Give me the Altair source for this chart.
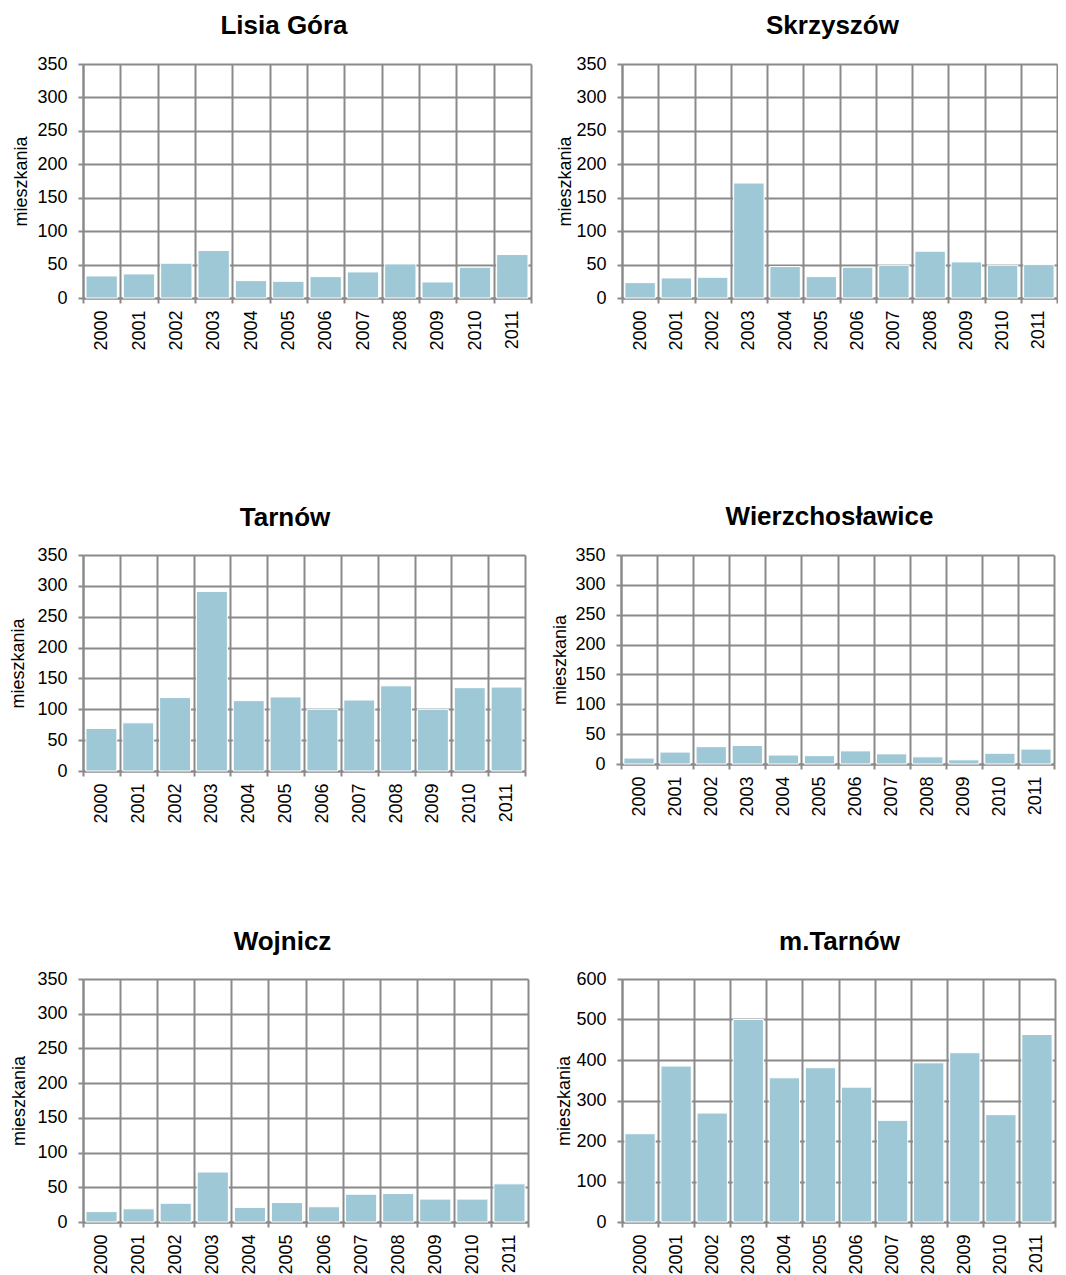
import altair as alt
import pandas as pd

# ---- data ----
years = ["2000", "2001", "2002", "2003", "2004", "2005",
         "2006", "2007", "2008", "2009", "2010", "2011"]

lisia_gora = [33, 36, 52, 71, 26, 25, 32, 39, 51, 24, 46, 65]
skrzyszow = [23, 30, 31, 172, 47, 32, 46, 49, 70, 54, 49, 50]
tarnow = [69, 78, 119, 291, 114, 120, 100, 115, 138, 100, 135, 136]
wierzchoslawice = [10, 20, 29, 31, 15, 14, 22, 17, 12, 7, 18, 25]
wojnicz = [15, 19, 27, 72, 21, 28, 22, 40, 41, 33, 33, 55]
m_tarnow = [218, 385, 269, 500, 356, 381, 333, 251, 393, 418, 265, 463]

ticks_350 = [0, 50, 100, 150, 200, 250, 300, 350]
ticks_600 = [0, 100, 200, 300, 400, 500, 600]

titles = ["Lisia Góra", "Skrzyszów", "Tarnów", "Wierzchosławice", "Wojnicz", "m.Tarnów"]
y_title = "mieszkania"

# ---- style ----
FONT = "Liberation Sans"
GRAY = "#8a8a8a"
BAR = "#9fc8d7"


def panel(title, values, ticks, width, height, dx, offset, title_pad):
    df = pd.DataFrame({"rok": years, "mieszkania": values})
    return (
        alt.Chart(
            df,
            title=alt.TitleParams(
                text=title, font=FONT, fontSize=26, fontWeight="bold", color="#000000",
                anchor="middle", frame="group", baseline="alphabetic", dx=dx, offset=offset,
            ),
        )
        .mark_bar(color=BAR, stroke="white", strokeWidth=1, width=alt.RelativeBandSize(0.84))
        .encode(
            x=alt.X(
                "rok:N", sort=years, title=None,
                scale=alt.Scale(paddingInner=0, paddingOuter=0),
                axis=alt.Axis(
                    tickBand="extent", labelAngle=-90, grid=True, labelPadding=7,
                ),
            ),
            y=alt.Y(
                "mieszkania:Q", title=y_title,
                scale=alt.Scale(domain=[ticks[0], ticks[-1]], nice=False, zero=True),
                axis=alt.Axis(values=ticks, grid=True, labelPadding=11, titlePadding=title_pad),
            ),
        )
        .properties(width=width, height=height)
    )


def spacer(h):
    return (
        alt.Chart(pd.DataFrame({"s": [0]}))
        .mark_point(opacity=0)
        .properties(width=1, height=h)
    )


p1 = panel(titles[0], lisia_gora, ticks_350, 448, 234, -23, -5, 6)
p2 = panel(titles[1], skrzyszow, ticks_350, 435, 234, -7, -5, 1)
p3 = panel(titles[2], tarnow, ticks_350, 442, 216, -19, -6, 9)
p4 = panel(titles[3], wierzchoslawice, ticks_350, 433, 209, -8, -5, 5)
p5 = panel(titles[4], wojnicz, ticks_350, 445, 243, -23, -6, 8)
p6 = panel(titles[5], m_tarnow, ticks_600, 433, 243, 1, -6, 2)

row1 = alt.hconcat(p1, p2, spacing=91, bounds="flush")
row2 = alt.hconcat(p3, p4, spacing=96, bounds="flush")
row3 = alt.hconcat(p5, p6, spacing=94, bounds="flush")

chart = (
    alt.vconcat(row1, spacer(153), row2, spacer(105), row3, spacing=0)
    .properties(padding={"left": 1, "top": 5, "right": 0, "bottom": 0})
    .configure(font=FONT)
    .configure_view(strokeWidth=0)
    .configure_axis(
        domainColor=GRAY, domainWidth=2,
        tickColor=GRAY, tickWidth=2, tickSize=5,
        gridColor=GRAY, gridWidth=2,
        labelFont=FONT, labelFontSize=18, labelColor="#000000",
        titleFont=FONT, titleFontSize=18, titleFontWeight="normal", titleColor="#000000",
    )
)

chart.save("out.html", embed_options={"renderer": "svg", "actions": False})
